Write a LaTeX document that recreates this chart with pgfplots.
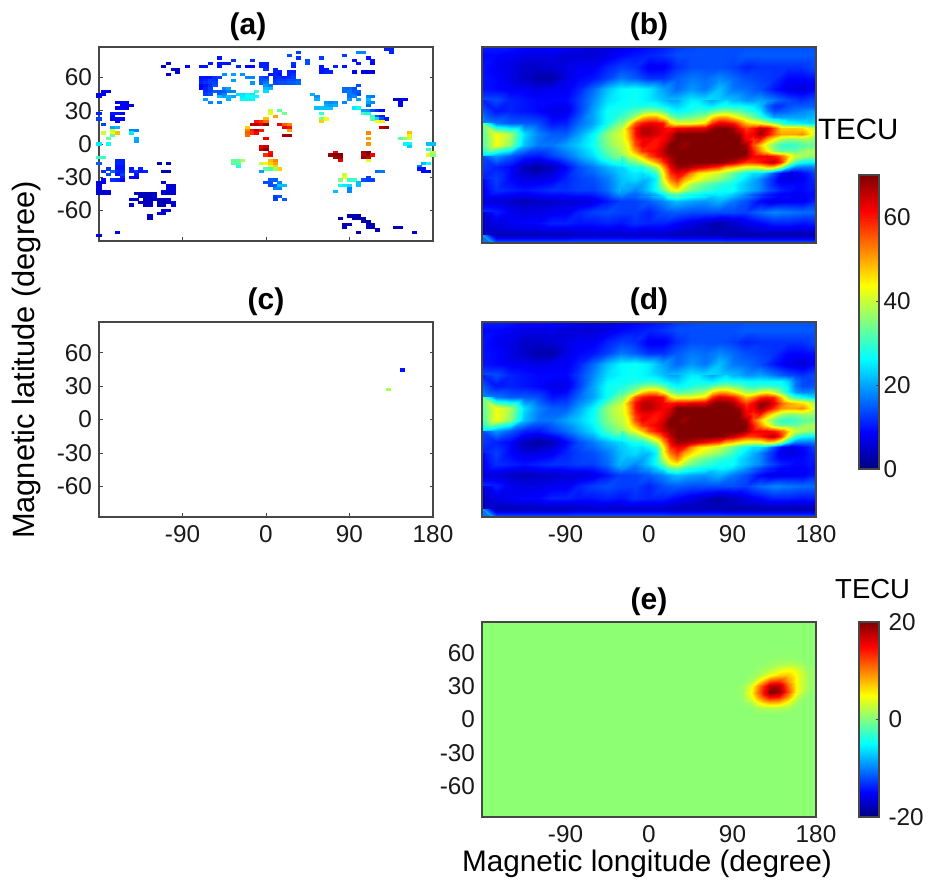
\documentclass[border=0pt]{standalone}
\usepackage{fontspec}
\setmainfont{Liberation Sans}
\usepackage{pgfplots}
\usepackage{pgfplotstable}
\pgfplotsset{compat=1.18}
\pgfdeclareplotmark{cell}{\pgfpathrectangle{\pgfpoint{-2.55pt}{-1.6pt}}{\pgfpoint{5.1pt}{3.2pt}}\pgfusepathqfill}
\definecolor{frame}{gray}{0.28}
\definecolor{jetzero}{rgb}{0.55,1,0.45}
\definecolor{stripblue}{rgb}{0,0.45,1}
\newcommand\ticksize{\fontsize{24.3}{26}\selectfont}
\newcommand\titlesize{\fontsize{30}{32}\selectfont\bfseries}
\pgfplotsset{
  panel/.style={scale only axis,width=334pt,height=195pt,anchor=south west,
    xmin=-180,xmax=180,ymin=-87.5,ymax=87.5,
    colormap/jet,axis line style={draw=frame,line width=1.1pt},
    xtick={-90,0,90,180},ytick={-60,-30,0,30,60},
    xtick pos=lower,ytick pos=both,tick align=inside,
    tick style={draw=frame,line width=0.8pt},major tick length=3.5pt,
    tick label style={font=\ticksize,text=black!90},
    xticklabels={},yticklabels={},
    xticklabel style={yshift=-5pt},yticklabel style={xshift=-3.5pt},
    title style={font=\titlesize,yshift=-3pt},
    point meta min=0,point meta max=70,axis on top},
  xl/.style={xticklabels={-90,0,90,180}},
  yl/.style={yticklabels={-60,-30,0,30,60}},
  heat/.style={major tick length=0pt,axis background/.style={fill=stripblue}},
  bar/.style={scale only axis,width=20pt,anchor=south west,xmin=0,xmax=1,xtick=\empty,
    colormap/jet,axis line style={draw=frame,line width=1.1pt},axis on top,
    ytick pos=right,tick align=inside,yticklabel pos=right,
    tick style={draw=frame,line width=0.8pt},major tick length=3.5pt,
    tick label style={font=\ticksize,text=black!90},yticklabel style={xshift=1pt}},
  coarse/.style={surf,shader=interp,mesh/cols=25,point meta=explicit},
  fine/.style={surf,shader=interp,mesh/cols=29,point meta=explicit},
}
\pgfplotstableread[row sep=\\,header=false]{
15 6 5\\14 7 5\\16 8 5\\17 8 5\\17 9 5\\15 10 5\\19 7 8\\
22 7 10\\23 7 10\\24 6 10\\26 4 10\\26 6 10\\27 6 10\\28 6 10\\26 7 10\\29 5 12\\30 7 11\\33 5 12\\32 7 9\\33 7 9\\35 6 11\\36 6 11\\35 7 11\\36 7 11\\36 8 12\\
22 11 10\\23 11 10\\24 11 10\\25 11 12\\26 11 13\\22 12 10\\23 12 11\\24 12 13\\25 12 12\\22 13 11\\23 13 12\\24 13 13\\25 13 13\\22 14 9\\23 14 10\\24 14 12\\25 14 14\\22 15 9\\23 15 11\\24 15 13\\23 16 12\\24 16 13\\25 16 15\\23 17 13\\24 17 14\\
23 19 20\\24 20 18\\26 20 18\\27 15 18\\28 15 20\\26 16 14\\27 16 15\\28 16 17\\29 16 18\\26 17 15\\27 18 20\\26 18 22\\27 17 18\\28 18 22\\29 18 20\\28 19 21\\
27 10 19\\29 10 20\\31 10 19\\29 12 20\\32 11 18\\33 11 18\\33 13 19\\30 17 24\\31 17 24\\32 17 26\\33 17 25\\31 18 25\\32 18 27\\33 18 27\\34 18 26\\31 19 26\\32 19 26\\33 19 26\\
35 11 14\\36 11 13\\35 12 14\\36 12 15\\35 13 15\\36 13 17\\36 14 19\\37 14 17\\36 15 22\\37 15 21\\36 16 24\\34 16 30\\
38 9 11\\39 9 11\\41 9 11\\42 9 11\\38 10 11\\39 10 10\\41 10 11\\42 10 12\\37 10 10\\38 11 11\\39 11 12\\40 11 11\\41 11 12\\42 11 13\\38 12 12\\39 12 13\\40 12 13\\41 12 14\\42 12 14\\39 13 14\\40 13 14\\41 13 15\\42 13 15\\38 13 13\\38 8 11\\43 12 15\\43 13 16\\
41 3 14\\43 2 13\\43 4 12\\42 6 12\\42 7 11\\45 5 14\\45 6 14\\48 4 13\\48 7 10\\48 8 10\\49 8 10\\48 9 10\\49 9 11\\50 9 11\\51 7 11\\53 7 10\\53 3 13\\56 2 18\\57 2 18\\62 1 11\\63 1 11\\63 2 11\\55 5 10\\56 6 10\\58 4 10\\59 5 10\\59 6 9\\55 9 7\\57 9 7\\58 9 6\\59 9 6\\
46 17 21\\47 19 21\\47 18 19\\47 22 22\\48 22 22\\49 22 22\\50 22 22\\49 20 19\\50 20 18\\51 20 19\\49 21 21\\50 21 20\\51 21 21\\53 15 16\\54 15 16\\55 15 14\\56 14 14\\53 16 16\\54 16 17\\55 16 15\\56 16 15\\54 17 17\\55 17 16\\56 17 14\\54 18 17\\55 18 18\\54 19 19\\56 19 20\\
53 20 18\\55 22 25\\56 22 27\\58 18 18\\59 18 17\\58 19 22\\58 20 20\\59 20 18\\58 21 16\\57 23 20\\58 23 19\\59 23 14\\60 23 11\\61 23 9\\57 24 30\\58 24 28\\59 25 30\\60 25 15\\61 25 11\\59 26 32\\60 26 24\\61 26 14\\62 26 10\\60 27 43\\61 27 45\\61 29 66\\62 29 68\\
64 19 6\\65 19 6\\66 19 8\\65 20 6\\65 21 8\\48 24 30\\49 26 43\\48 26 35\\48 27 47\\58 31 52\\58 33 50\\58 35 51\\67 31 48\\67 32 45\\66 33 36\\65 33 33\\67 33 40\\66 35 26\\67 35 26\\67 36 23\\71 35 22\\72 35 22\\71 37 30\\72 38 40\\71 39 42\\72 39 36\\71 42 27\\70 42 22\\69 43 17\\69 44 10\\70 44 10\\70 45 9\\71 45 9\\
37 23 40\\39 23 33\\40 24 34\\37 24 42\\36 26 48\\38 25 50\\
34 27 60\\35 27 58\\36 27 54\\33 28 66\\34 28 67\\35 28 62\\36 28 69\\32 29 47\\32 30 52\\33 30 60\\34 30 66\\35 30 60\\32 31 55\\33 31 58\\34 31 62\\32 32 54\\
39 28 62\\40 28 55\\41 28 52\\41 29 60\\40 29 63\\41 30 50\\40 32 68\\41 32 68\\36 33 62\\
35 36 63\\36 36 65\\35 37 65\\36 37 69\\36 39 58\\37 38 60\\37 39 62\\38 41 52\\37 41 48\\36 42 44\\37 42 47\\38 42 50\\35 42 40\\38 43 47\\37 43 42\\37 44 30\\36 44 33\\39 44 47\\38 44 38\\35 45 20\\
29 41 33\\30 41 33\\29 42 33\\30 42 33\\31 41 37\\30 43 29\\
37 48 15\\38 48 15\\36 49 14\\37 49 14\\39 49 18\\37 50 14\\38 50 15\\39 50 22\\40 50 22\\38 51 18\\39 51 18\\38 54 13\\39 54 14\\38 55 13\\40 55 15\\
51 38 62\\50 39 68\\51 39 70\\52 39 70\\51 40 68\\52 40 68\\52 41 63\\
57 38 68\\58 38 70\\57 39 66\\58 39 70\\59 39 62\\57 40 68\\58 40 66\\58 41 42\\
53 46 40\\53 47 42\\52 48 35\\54 48 30\\55 48 30\\58 47 13\\57 48 14\\58 48 13\\59 48 13\\60 45 16\\61 45 17\\56 49 22\\56 50 22\\52 50 27\\53 50 25\\54 50 24\\54 51 18\\54 52 18\\51 52 22\\
1 16 8\\2 16 7\\0 17 7\\1 17 7\\0 18 7\\4 20 8\\5 20 8\\6 20 8\\5 21 8\\6 21 8\\7 21 7\\4 22 8\\5 22 9\\6 22 8\\3 24 10\\4 24 10\\5 24 9\\3 25 9\\3 26 8\\4 26 8\\5 26 8\\4 27 8\\0 24 11\\0 26 13\\1 28 13\\
3 29 20\\4 29 21\\1 31 40\\3 31 43\\4 31 48\\3 30 40\\3 32 33\\2 33 33\\0 35 25\\2 35 27\\7 30 18\\8 30 18\\7 31 25\\8 33 21\\8 34 20\\
0 40 30\\1 40 30\\0 42 15\\4 41 11\\5 41 11\\4 42 11\\5 42 11\\4 43 10\\5 43 10\\4 44 10\\5 44 10\\4 45 11\\5 45 11\\4 46 10\\5 46 13\\5 47 11\\2 44 12\\1 45 12\\2 46 14\\3 45 16\\1 48 9\\3 48 12\\4 48 11\\5 48 9\\
0 49 7\\1 49 7\\0 50 7\\0 51 6\\0 52 6\\1 52 6\\2 52 6\\0 53 6\\1 53 6\\2 53 6\\
7 44 10\\9 44 11\\7 45 11\\8 45 12\\9 45 10\\10 45 11\\8 46 10\\7 47 9\\8 47 8\\13 42 4\\15 42 4\\14 45 4\\15 45 4\\14 49 6\\15 50 6\\16 50 6\\15 51 6\\16 51 6\\14 52 6\\15 52 6\\16 52 6\\14 53 6\\15 53 5\\16 53 5\\
8 53 4\\9 53 4\\10 53 4\\11 53 4\\12 53 5\\9 54 4\\10 54 4\\11 54 4\\12 54 6\\7 55 5\\8 55 6\\10 55 4\\11 55 4\\12 55 4\\9 56 4\\10 56 3\\11 56 5\\7 57 5\\10 57 4\\11 57 5\\
13 55 4\\14 55 4\\15 55 5\\13 56 4\\14 56 3\\15 56 5\\16 56 6\\13 57 3\\14 57 4\\16 57 6\\14 59 6\\15 59 6\\13 60 6\\14 60 6\\11 61 4\\11 62 4\\
4 67 8\\0 68 7\\54 61 3\\52 62 3\\53 64 4\\54 64 4\\53 65 4\\55 61 3\\56 61 3\\55 62 3\\56 62 3\\57 62 3\\57 63 3\\58 63 3\\58 64 3\\59 64 3\\58 65 4\\59 65 3\\60 66 4\\56 67 3\\64 65 4\\65 65 4\\68 67 5\\
}\cellsA
\pgfplotstableread[row sep=\\,header=false]{
65.4 17.2 10\\62.5 24.2 38\\
}\cellsC
\pgfplotstableread[row sep=\\,header=false]{
11\\11\\11\\10\\10\\10\\9\\8\\7\\7\\7\\8\\9\\10\\12\\13\\14\\14\\14\\14\\14\\14\\14\\14\\14\\
9\\9\\8\\7\\7\\7\\6\\6\\6\\7\\9\\10\\11\\12\\14\\14\\14\\14\\14\\15\\15\\15\\15\\15\\15\\
10\\8\\7\\5\\5\\6\\7\\8\\8\\11\\13\\12\\8\\8\\12\\14\\14\\14\\13\\11\\12\\12\\12\\12\\14\\
10\\9\\7\\5\\3\\3\\7\\9\\10\\13\\17\\15\\12\\12\\15\\17\\16\\18\\16\\14\\13\\12\\9\\9\\10\\
10\\9\\8\\8\\7\\8\\8\\11\\16\\22\\26\\27\\25\\20\\16\\19\\17\\22\\17\\16\\14\\10\\7\\6\\9\\
14\\14\\11\\10\\9\\9\\9\\13\\18\\24\\26\\27\\25\\22\\22\\25\\24\\23\\22\\19\\20\\17\\14\\12\\14\\
11\\10\\11\\10\\9\\7\\7\\13\\20\\27\\28\\32\\38\\33\\27\\28\\32\\35\\32\\30\\25\\12\\14\\15\\16\\
19\\17\\15\\15\\14\\10\\11\\16\\20\\27\\36\\50\\64\\55\\50\\46\\43\\62\\58\\50\\42\\35\\27\\25\\24\\
33\\43\\38\\24\\18\\15\\15\\20\\26\\36\\42\\60\\66\\62\\70\\70\\70\\70\\70\\60\\68\\48\\47\\45\\37\\
31\\43\\36\\22\\17\\17\\20\\23\\27\\35\\40\\63\\63\\66\\70\\70\\70\\70\\70\\66\\58\\38\\30\\32\\33\\
23\\19\\15\\11\\10\\13\\16\\20\\24\\31\\36\\43\\55\\66\\70\\70\\70\\70\\70\\70\\62\\62\\52\\38\\36\\
14\\11\\9\\4\\2\\4\\9\\14\\17\\21\\24\\28\\35\\50\\70\\70\\70\\62\\55\\44\\43\\40\\30\\24\\22\\
11\\13\\9\\7\\7\\8\\11\\13\\14\\17\\22\\24\\22\\42\\58\\47\\42\\38\\30\\24\\18\\12\\7\\8\\12\\
9\\12\\11\\10\\11\\12\\12\\13\\13\\16\\22\\19\\23\\30\\44\\36\\33\\27\\27\\22\\18\\14\\11\\9\\10\\
6\\6\\5\\4\\5\\5\\6\\6\\7\\10\\13\\13\\15\\18\\22\\20\\19\\21\\17\\14\\9\\7\\8\\8\\11\\
12\\11\\8\\7\\7\\8\\8\\11\\13\\14\\13\\13\\11\\14\\15\\14\\14\\14\\14\\13\\16\\18\\17\\16\\16\\
6\\7\\8\\9\\9\\11\\11\\10\\10\\11\\10\\12\\11\\11\\9\\7\\5\\3\\5\\7\\9\\11\\11\\10\\11\\
4\\4\\4\\4\\4\\4\\4\\5\\5\\5\\5\\5\\5\\5\\4\\4\\4\\4\\3\\3\\3\\3\\3\\3\\3\\
20\\20\\20\\20\\20\\20\\20\\20\\20\\20\\20\\20\\20\\20\\20\\20\\20\\20\\20\\20\\20\\20\\20\\20\\20\\
}\tecB
% inner field: lon -30 to 180 by 7.5, lat 40 to -45 by 5
\pgfplotstableread[row sep=\\,header=false]{
26\\27\\27\\26\\25\\24\\22\\20\\20\\23\\25\\25\\22\\20\\22\\24\\21\\21\\19\\19\\20\\19\\17\\15\\14\\13\\12\\13\\14\\
27\\27\\28\\28\\29\\28\\26\\24\\23\\25\\27\\27\\26\\25\\27\\28\\27\\27\\26\\25\\22\\16\\12\\12\\14\\15\\15\\15\\15\\
28\\30\\32\\35\\36\\36\\33\\28\\26\\27\\28\\30\\30\\33\\35\\36\\34\\33\\30\\28\\25\\18\\14\\15\\16\\17\\18\\19\\20\\
30\\34\\38\\47\\50\\50\\44\\36\\32\\33\\34\\36\\38\\46\\50\\50\\46\\42\\38\\34\\30\\25\\20\\20\\20\\20\\20\\21\\22\\
34\\42\\55\\60\\62\\62\\60\\47\\42\\42\\42\\44\\46\\58\\63\\62\\60\\55\\48\\46\\44\\40\\36\\31\\27\\26\\25\\24\\24\\
38\\50\\60\\66\\66\\64\\62\\60\\62\\62\\63\\63\\63\\68\\70\\70\\68\\62\\57\\60\\65\\64\\56\\47\\47\\47\\46\\42\\38\\
40\\48\\60\\66\\66\\64\\62\\64\\70\\70\\70\\70\\70\\70\\70\\70\\70\\68\\60\\62\\68\\62\\55\\50\\50\\50\\52\\46\\38\\
40\\47\\58\\62\\62\\60\\62\\66\\70\\70\\70\\70\\70\\70\\70\\70\\70\\70\\62\\58\\60\\50\\44\\38\\36\\36\\37\\38\\35\\
40\\44\\56\\62\\60\\60\\64\\70\\70\\68\\70\\70\\70\\70\\70\\70\\70\\70\\68\\56\\48\\40\\34\\30\\29\\30\\32\\33\\33\\
38\\42\\50\\58\\60\\62\\66\\70\\70\\70\\70\\70\\70\\70\\70\\70\\70\\70\\70\\60\\52\\45\\37\\33\\34\\33\\36\\38\\38\\
36\\39\\42\\48\\56\\60\\64\\68\\70\\70\\70\\70\\70\\70\\70\\70\\70\\70\\68\\62\\62\\62\\60\\55\\47\\40\\38\\36\\36\\
30\\32\\34\\38\\44\\50\\58\\66\\70\\70\\70\\70\\70\\70\\70\\68\\66\\62\\58\\58\\60\\64\\66\\58\\42\\31\\27\\26\\26\\
24\\26\\28\\28\\33\\38\\50\\62\\68\\68\\66\\64\\62\\59\\57\\50\\48\\45\\42\\42\\42\\47\\46\\37\\25\\18\\17\\17\\18\\
23\\24\\25\\24\\26\\30\\44\\58\\62\\60\\52\\46\\44\\42\\40\\37\\33\\30\\27\\24\\24\\20\\14\\9\\7\\7\\9\\11\\14\\
22\\23\\24\\22\\22\\26\\42\\53\\58\\50\\46\\43\\40\\38\\36\\33\\30\\27\\24\\21\\18\\14\\11\\7\\7\\7\\8\\10\\12\\
22\\21\\21\\20\\23\\27\\38\\47\\52\\44\\38\\35\\33\\31\\29\\28\\27\\24\\22\\20\\18\\14\\11\\9\\9\\9\\9\\10\\11\\
22\\20\\18\\20\\23\\27\\33\\41\\44\\38\\34\\32\\30\\29\\27\\27\\27\\24\\22\\20\\18\\15\\13\\11\\10\\9\\9\\10\\10\\
18\\16\\15\\17\\18\\20\\24\\28\\30\\27\\26\\25\\24\\24\\25\\24\\22\\20\\17\\14\\12\\10\\9\\8\\8\\8\\8\\9\\10\\
}\fineB
\pgfplotstableread[row sep=\\,header=false]{
26\\27\\27\\26\\25\\24\\22\\20\\20\\23\\25\\25\\22\\20\\22\\24\\21\\21\\19\\19\\20\\19\\17\\15\\14\\13\\12\\13\\14\\
27\\27\\28\\28\\29\\28\\26\\24\\23\\25\\27\\27\\26\\25\\27\\28\\27\\27\\26\\26\\26\\26\\26\\26\\23\\17\\14\\13\\14\\
28\\30\\32\\35\\36\\36\\33\\28\\26\\27\\28\\30\\30\\33\\35\\36\\34\\33\\30\\29\\30\\30\\29\\28\\25\\17\\14\\14\\15\\
30\\34\\38\\47\\50\\50\\44\\36\\32\\33\\34\\36\\38\\46\\50\\50\\46\\42\\38\\38\\42\\44\\40\\33\\26\\20\\18\\18\\19\\
34\\42\\55\\60\\62\\62\\60\\47\\42\\42\\42\\44\\46\\58\\63\\62\\60\\55\\48\\52\\58\\60\\58\\48\\36\\30\\27\\25\\23\\
38\\50\\60\\66\\66\\64\\62\\60\\62\\62\\63\\63\\63\\68\\70\\70\\68\\62\\57\\62\\68\\68\\63\\55\\50\\48\\46\\42\\34\\
40\\48\\60\\66\\66\\64\\62\\64\\70\\70\\70\\70\\70\\70\\70\\70\\70\\68\\60\\62\\68\\64\\58\\52\\50\\50\\52\\46\\38\\
40\\47\\58\\62\\62\\60\\62\\66\\70\\70\\70\\70\\70\\70\\70\\70\\70\\70\\62\\58\\60\\50\\44\\38\\36\\36\\37\\38\\35\\
40\\44\\56\\62\\60\\60\\64\\70\\70\\68\\70\\70\\70\\70\\70\\70\\70\\70\\68\\56\\48\\40\\34\\30\\29\\30\\32\\33\\33\\
38\\42\\50\\58\\60\\62\\66\\70\\70\\70\\70\\70\\70\\70\\70\\70\\70\\70\\70\\60\\52\\45\\37\\33\\34\\33\\36\\38\\38\\
36\\39\\42\\48\\56\\60\\64\\68\\70\\70\\70\\70\\70\\70\\70\\70\\70\\70\\68\\62\\62\\62\\60\\55\\47\\40\\38\\36\\36\\
30\\32\\34\\38\\44\\50\\58\\66\\70\\70\\70\\70\\70\\70\\70\\68\\66\\62\\58\\58\\60\\64\\66\\58\\42\\31\\27\\26\\26\\
24\\26\\28\\28\\33\\38\\50\\62\\68\\68\\66\\64\\62\\59\\57\\50\\48\\45\\42\\42\\42\\47\\46\\37\\25\\18\\17\\17\\18\\
23\\24\\25\\24\\26\\30\\44\\58\\62\\60\\52\\46\\44\\42\\40\\37\\33\\30\\27\\24\\24\\20\\14\\9\\7\\7\\9\\11\\14\\
22\\23\\24\\22\\22\\26\\42\\53\\58\\50\\46\\43\\40\\38\\36\\33\\30\\27\\24\\21\\18\\14\\11\\7\\7\\7\\8\\10\\12\\
22\\21\\21\\20\\23\\27\\38\\47\\52\\44\\38\\35\\33\\31\\29\\28\\27\\24\\22\\20\\18\\14\\11\\9\\9\\9\\9\\10\\11\\
22\\20\\18\\20\\23\\27\\33\\41\\44\\38\\34\\32\\30\\29\\27\\27\\27\\24\\22\\20\\18\\15\\13\\11\\10\\9\\9\\10\\10\\
18\\16\\15\\17\\18\\20\\24\\28\\30\\27\\26\\25\\24\\24\\25\\24\\22\\20\\17\\14\\12\\10\\9\\8\\8\\8\\8\\9\\10\\
}\fineD
\pgfplotstableread[row sep=\\,header=false]{
0.5\\0.5\\0.5\\0.5\\0.5\\0.5\\0.5\\0.5\\0.5\\0.5\\
0.5\\0.5\\0.5\\0.5\\0.6\\0.8\\0.8\\0.6\\0.5\\0.5\\
0.5\\0.5\\0.5\\0.5\\1\\1.5\\2\\1.5\\0.5\\0.5\\
0.5\\0.5\\0.5\\1\\2\\3.5\\4.5\\3.5\\1\\0.5\\
0.5\\0.5\\0.8\\2\\4.5\\6.5\\7\\4.5\\1.5\\0.5\\
0.5\\0.5\\1.5\\6\\12\\13\\9\\4.5\\1.5\\0.5\\
0.5\\1\\4\\11\\18\\18\\11\\4.5\\1.5\\0.5\\
0.5\\1\\5\\12\\20\\19\\12\\4.5\\1\\0.5\\
0.5\\0.8\\4\\10\\15\\14\\9\\2.5\\0.5\\0.5\\
0.5\\0.5\\1.5\\5\\7.5\\7\\4\\1\\0.5\\0.5\\
0.5\\0.5\\0.5\\1.5\\2\\2\\1.5\\0.5\\0.5\\0.5\\
0.5\\0.5\\0.5\\0.5\\0.5\\0.5\\0.5\\0.5\\0.5\\0.5\\
}\diffE
\begin{document}
\begin{tikzpicture}[x=1pt,y=1pt]
\path[use as bounding box] (0,0) rectangle (934,881);
% (a)
\begin{axis}[panel,yl,at={(99pt,640pt)},height=194pt,title={(a)},title style={xshift=-18pt}]
\addplot[scatter,only marks,mark=cell,point meta=explicit] table[x expr={\thisrowno{0}*5-180},y expr={87.5-2.5*\thisrowno{1}},meta index=2]\cellsA;
\end{axis}
% (b)
\begin{axis}[panel,heat,at={(482pt,638pt)},height=196pt,title={(b)}]
\addplot[coarse] table[x index=0,y index=0,x expr={mod(\coordindex,25)*15-180},y expr={90-10*floor(\coordindex/25)},meta index=0]\tecB;
\addplot[fine] table[x index=0,y index=0,x expr={mod(\coordindex,29)*7.5-30},y expr={40-5*floor(\coordindex/29)},meta index=0]\fineB;
\end{axis}
% (c)
\begin{axis}[panel,xl,yl,at={(99pt,364pt)},title={(c)}]
\addplot[scatter,only marks,mark=cell,point meta=explicit] table[x expr={\thisrowno{0}*5-180},y expr={87.5-2.5*\thisrowno{1}},meta index=2]\cellsC;
\end{axis}
% (d)
\begin{axis}[panel,heat,xl,at={(482pt,364pt)},title={(d)}]
\addplot[coarse] table[x index=0,y index=0,x expr={mod(\coordindex,25)*15-180},y expr={90-10*floor(\coordindex/25)},meta index=0]\tecB;
\addplot[fine] table[x index=0,y index=0,x expr={mod(\coordindex,29)*7.5-30},y expr={40-5*floor(\coordindex/29)},meta index=0]\fineD;
\end{axis}
% (e)
\begin{axis}[panel,heat,xl,yl,at={(482pt,64pt)},title={(e)},point meta min=-20,point meta max=20,axis background/.style={fill=jetzero}]
\addplot[surf,shader=interp,mesh/cols=10,point meta=explicit] table[x index=0,y index=0,x expr={mod(\coordindex,10)*10+90},y expr={60-5*floor(\coordindex/10)},meta index=0]\diffE;
\end{axis}
% colour bars
\begin{axis}[bar,at={(859pt,412pt)},height=294pt,ymin=0,ymax=70,ytick={0,20,40,60},yticklabels={0,20,40,60},point meta min=0,point meta max=70]
\addplot[surf,shader=interp,mesh/cols=2,point meta=y] coordinates {(0,0)(1,0)(0,70)(1,70)};
\end{axis}
\begin{axis}[bar,at={(859pt,64pt)},height=195pt,ymin=-20,ymax=20,ytick={-20,0,20},yticklabels={-20,0,20},point meta min=-20,point meta max=20,yticklabel style={xshift=5pt}]
\addplot[surf,shader=interp,mesh/cols=2,point meta=y] coordinates {(0,-20)(1,-20)(0,20)(1,20)};
\end{axis}
\node[anchor=west,inner sep=0pt,font=\fontsize{29.4}{32}\selectfont] at (818,752) {TECU};
\node[anchor=west,inner sep=0pt,font=\fontsize{27.5}{30}\selectfont] at (835,292) {TECU};
\node[rotate=90,inner sep=0pt,font=\fontsize{30.8}{33}\selectfont] at (27,521) {Magnetic latitude (degree)};
\node[inner sep=0pt,font=\fontsize{29.7}{32}\selectfont] at (647,17) {Magnetic longitude (degree)};
\end{tikzpicture}
\end{document}
